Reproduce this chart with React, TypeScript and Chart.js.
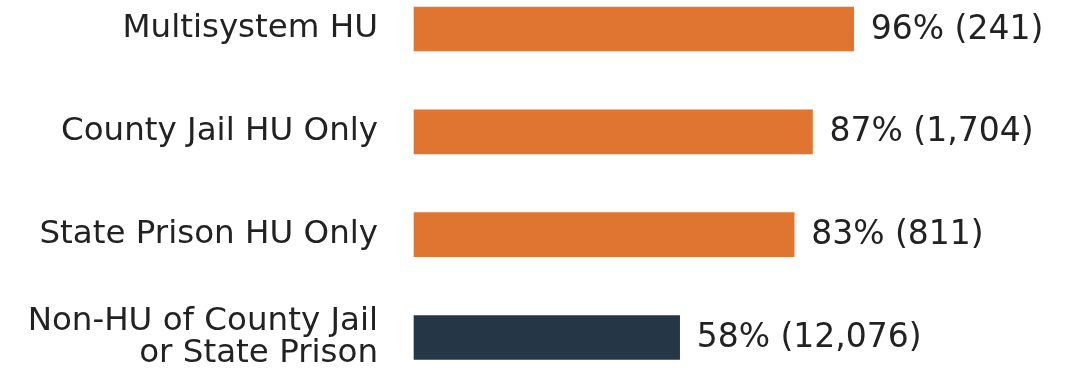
import React, { useEffect, useRef } from "react";
import { Chart, registerables } from "chart.js";

Chart.register(...registerables);

// Groups, share of each group, and the number of people in it
const categories: (string | string[])[] = [
  "Multisystem HU",
  "County Jail HU Only",
  "State Prison HU Only",
  ["Non-HU of County Jail", "or State Prison"],
];
const percentages: number[] = [96, 87, 83, 58];
const counts: number[] = [241, 1704, 811, 12076];
const barColors: string[] = ["#E07532", "#E07532", "#E07532", "#253746"];

const WIDTH = 1071;
const HEIGHT = 376;

// Writes "NN% (count)" just past the end of each bar
const valueLabels = {
  id: "valueLabels",
  afterDatasetsDraw(chart: Chart) {
    const { ctx } = chart;
    const meta = chart.getDatasetMeta(0);
    ctx.save();
    ctx.font = "33px 'DejaVu Sans'";
    ctx.fillStyle = "#222222";
    ctx.textAlign = "left";
    ctx.textBaseline = "middle";
    meta.data.forEach((bar: any, i: number) => {
      const text = `${percentages[i]}% (${counts[i].toLocaleString("en-US")})`;
      ctx.fillText(text, bar.x + 17, bar.y + 1);
    });
    ctx.restore();
  },
};

export default function App() {
  const canvasRef = useRef<HTMLCanvasElement | null>(null);

  useEffect(() => {
    const canvas = canvasRef.current;
    if (!canvas) return;
    const chart = new Chart(canvas, {
      type: "bar",
      data: {
        labels: categories,
        datasets: [
          {
            data: percentages,
            backgroundColor: barColors,
            borderWidth: 0,
            barThickness: 44,
            clip: false,
          },
        ],
      },
      options: {
        indexAxis: "y",
        animation: false,
        responsive: false,
        maintainAspectRatio: false,
        layout: {
          padding: { left: 0, right: 199, top: 29, bottom: 38.5 },
        },
        plugins: {
          legend: { display: false },
          tooltip: { enabled: false },
        },
        scales: {
          x: {
            display: false,
            min: 0,
            max: 100,
          },
          y: {
            offset: false,
            grid: { display: false, drawTicks: false },
            border: { display: false },
            ticks: {
              color: "#222222",
              padding: 36,
              autoSkip: false,
              font: { family: "'DejaVu Sans'", size: 32.5, lineHeight: 0.98 },
            },
            afterFit(scale: any) {
              scale.width = 414;
              scale.paddingTop = 0;
              scale.paddingBottom = 0;
            },
          },
        },
      },
      plugins: [valueLabels],
    });
    return () => chart.destroy();
  }, []);

  return (
    <div
      style={{
        position: "absolute",
        left: 0,
        top: 0,
        width: WIDTH,
        height: HEIGHT,
        background: "#ffffff",
      }}
    >
      <canvas ref={canvasRef} width={WIDTH} height={HEIGHT} />
    </div>
  );
}
